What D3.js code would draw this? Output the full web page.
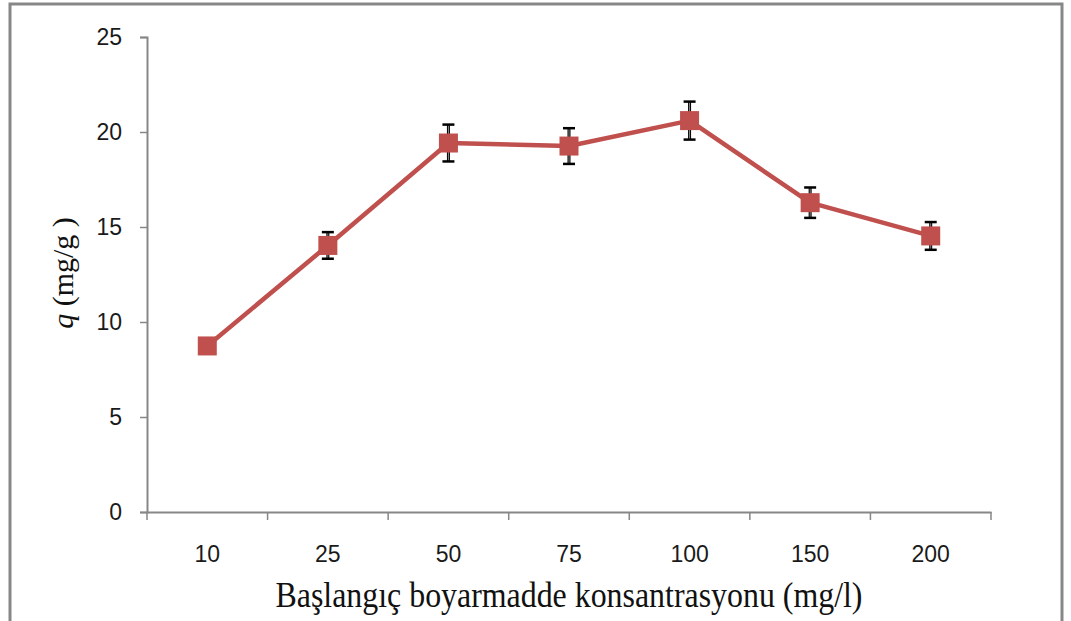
<!DOCTYPE html>
<html>
<head>
<meta charset="utf-8">
<script src="https://cdn.jsdelivr.net/npm/d3@7"></script>
<style>
  body { margin: 0; background: #fff; }
  svg { display: block; }
</style>
</head>
<body>
<svg id="chart" width="1071" height="621"></svg>
<script>
// Initial dye concentration (mg/l) and adsorption capacity q (mg/g)
const categories = ["10", "25", "50", "75", "100", "150", "200"];
const qValues   = [8.74, 14.03, 19.42, 19.26, 20.6, 16.28, 14.53];
const qErrors   = [0.2, 0.7, 0.97, 0.94, 1.0, 0.8, 0.73];
const yTicks    = [0, 5, 10, 15, 20, 25];

const svg = d3.select("#chart");
const margin = { left: 147, right: 80, top: 37, bottom: 109 };
const W = 1071, H = 621;

// outer frame
svg.append("rect")
  .attr("x", 10).attr("y", 4)
  .attr("width", 1052).attr("height", 640)
  .attr("fill", "none").attr("stroke", "#878787").attr("stroke-width", 3);

const x = d3.scaleBand()
  .domain(categories)
  .range([margin.left, W - margin.right]);

const y = d3.scaleLinear()
  .domain([0, 25])
  .range([H - margin.bottom, margin.top]);

const axisColor = "#878787";
const tickFont = "'Liberation Sans', Arial, sans-serif";
const tickSize = "23px";

// y axis
const yAxis = svg.append("g")
  .attr("transform", `translate(${margin.left},0)`)
  .call(d3.axisLeft(y).tickValues(yTicks).tickSize(7).tickPadding(18));
yAxis.select(".domain").attr("stroke", axisColor).attr("stroke-width", 2);
yAxis.selectAll(".tick line").attr("stroke", axisColor).attr("stroke-width", 1.5);
yAxis.selectAll(".tick text")
  .attr("fill", "#1a1a1a").style("font-family", tickFont).style("font-size", tickSize);

// x axis with tick marks on category boundaries
const xAxis = svg.append("g")
  .attr("transform", `translate(0,${y(0)})`)
  .call(d3.axisBottom(x).tickSize(0).tickPadding(34));
xAxis.select(".domain").attr("stroke", axisColor).attr("stroke-width", 2);
xAxis.selectAll(".tick text")
  .attr("fill", "#1a1a1a").style("font-family", tickFont).style("font-size", tickSize);
const bounds = categories.map(c => x(c)).concat([x.range()[1]]);
xAxis.selectAll(".bound")
  .data(bounds)
  .join("line")
  .attr("class", "bound")
  .attr("x1", d => d).attr("x2", d => d)
  .attr("y1", 0).attr("y2", 8)
  .attr("stroke", axisColor).attr("stroke-width", 1.5);

const cx = c => x(c) + x.bandwidth() / 2;
const color = "#C0504D";

// connecting line
const line = d3.line()
  .x((d, i) => cx(categories[i]))
  .y(d => y(d));
svg.append("path")
  .datum(qValues)
  .attr("d", line)
  .attr("fill", "none")
  .attr("stroke", color)
  .attr("stroke-width", 4.5)
  .attr("stroke-linejoin", "round");

// error bars
const eb = svg.append("g");
qValues.forEach((v, i) => {
  const px = cx(categories[i]);
  const top = y(v + qErrors[i]), bot = y(v - qErrors[i]);
  eb.append("line").attr("x1", px).attr("x2", px).attr("y1", top).attr("y2", bot)
    .attr("stroke", "#000").attr("stroke-width", 3);
  eb.append("line").attr("x1", px).attr("x2", px).attr("y1", top).attr("y2", bot)
    .attr("stroke", "#888").attr("stroke-width", 1);
  [top, bot].forEach(yy => {
    eb.append("line").attr("x1", px - 6).attr("x2", px + 6).attr("y1", yy).attr("y2", yy)
      .attr("stroke", "#000").attr("stroke-width", 2.5);
  });
});

// square markers
const ms = 19;
svg.append("g").selectAll("rect")
  .data(qValues)
  .join("rect")
  .attr("x", (d, i) => cx(categories[i]) - ms / 2)
  .attr("y", d => y(d) - ms / 2)
  .attr("width", ms).attr("height", ms)
  .attr("fill", color);

// axis titles
svg.append("text")
  .attr("x", 569).attr("y", 607)
  .attr("text-anchor", "middle")
  .attr("textLength", 587)
  .attr("lengthAdjust", "spacingAndGlyphs")
  .style("font-family", "'Liberation Serif', 'Times New Roman', serif")
  .style("font-size", "35px")
  .attr("fill", "#111")
  .text("Başlangıç boyarmadde konsantrasyonu (mg/l)");

const yt = svg.append("text")
  .attr("transform", "translate(73,273) rotate(-90)")
  .attr("text-anchor", "middle")
  .style("font-family", "'Liberation Serif', 'Times New Roman', serif")
  .style("font-size", "30px")
  .attr("fill", "#111");
yt.append("tspan").style("font-style", "italic").text("q");
yt.append("tspan").text("  (mg/g )");
</script>
</body>
</html>
